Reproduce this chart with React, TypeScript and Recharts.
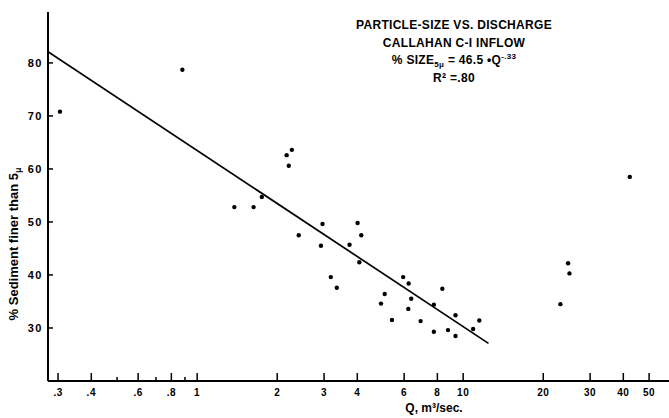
import { ScatterChart, Scatter, XAxis, YAxis } from 'recharts';

// discharge Q (m3/sec) and % sediment finer than 5 micron
const dischargeQ = [
  0.305, 0.88, 1.38, 1.63, 1.75, 2.17, 2.27, 2.21, 2.41, 2.96, 2.92, 3.18, 3.35,
  3.74, 4.01, 4.14, 4.07, 5.07, 4.91, 5.4, 5.95, 6.24, 6.38, 6.22, 6.92, 7.76,
  7.76, 8.35, 8.77, 9.36, 9.36, 10.9, 11.5, 23.2, 24.8, 25.1, 42.3,
];
const sedimentPct = [
  70.8, 78.7, 52.8, 52.8, 54.7, 62.6, 63.6, 60.6, 47.5, 49.6, 45.5, 39.6, 37.6,
  45.7, 49.8, 47.5, 42.4, 36.4, 34.6, 31.5, 39.6, 38.4, 35.5, 33.6, 31.3, 34.4,
  29.3, 37.4, 29.6, 32.4, 28.5, 29.8, 31.4, 34.5, 42.2, 40.3, 58.5,
];

// ends of the fitted line as drawn
const fitQ = [0.275, 12.45];
const fitPct = [82.1, 27.1];

const xTicks = [0.3, 0.4, 0.5, 0.6, 0.7, 0.8, 0.9, 1, 2, 3, 4, 6, 8, 10, 20, 30, 40, 50];
const xTickLabels: Record<number, string> = {
  0.3: '.3', 0.4: '.4', 0.6: '.6', 0.8: '.8', 1: '1', 2: '2', 3: '3', 4: '4',
  6: '6', 8: '8', 10: '10', 20: '20', 30: '30', 40: '40', 50: '50',
};
const yTicks = [30, 40, 50, 60, 70, 80];

const points = dischargeQ.map((q, i) => ({ q, pct: sedimentPct[i] }));
const fitLine = fitQ.map((q, i) => ({ q, pct: fitPct[i] }));

const FONT = '"Liberation Sans", Arial, sans-serif';

function XTick({ x, y, payload }: any) {
  const label = xTickLabels[payload.value];
  const len = label ? 8 : 4;
  return (
    <g>
      <line x1={x} y1={y} x2={x} y2={y - len} stroke="#000" strokeWidth={1.5} />
      {label && (
        <text x={x} y={y + 15} textAnchor="middle" fontSize={10} fontWeight="bold" fontFamily={FONT} fill="#000" letterSpacing={0.5}>
          {label}
        </text>
      )}
    </g>
  );
}

function YTick({ x, y, payload }: any) {
  return (
    <g>
      <line x1={x} y1={y} x2={x + 5} y2={y} stroke="#000" strokeWidth={1.5} />
      <text x={x - 5} y={y + 4} textAnchor="end" fontSize={11} fontWeight="bold" fontFamily={FONT} fill="#000" letterSpacing={1.5}>
        {payload.value}
      </text>
    </g>
  );
}

const dot = (props: any) => <circle cx={props.cx} cy={props.cy} r={2.2} fill="#000" />;

const small = { fontSize: 8, lineHeight: 0 };

export default function App() {
  return (
    <div style={{ position: 'absolute', left: 0, top: 0, width: 669, height: 418, background: '#fff', fontFamily: FONT }}>
      <ScatterChart width={669} height={418} margin={{ top: 12, right: 0, bottom: 0, left: 0 }}>
        <XAxis
          type="number"
          dataKey="q"
          scale="log"
          domain={[0.275, 59.4]}
          allowDataOverflow
          ticks={xTicks}
          interval={0}
          height={37}
          tickSize={0}
          tickMargin={0}
          tickLine={false}
          tick={<XTick />}
          axisLine={{ stroke: '#000', strokeWidth: 2 }}
        />
        <YAxis
          type="number"
          dataKey="pct"
          domain={[20, 89.6]}
          allowDataOverflow
          ticks={yTicks}
          interval={0}
          width={48}
          tickSize={0}
          tickMargin={0}
          tickLine={false}
          tick={<YTick />}
          axisLine={{ stroke: '#000', strokeWidth: 2 }}
        />
        <Scatter data={points} shape={dot} isAnimationActive={false} />
        <Scatter
          data={fitLine}
          line={{ stroke: '#000', strokeWidth: 1.7 }}
          shape={() => <g />}
          isAnimationActive={false}
        />
      </ScatterChart>

      <div style={{ position: 'absolute', left: 344, top: 17, width: 220, textAlign: 'center', fontSize: 12, fontWeight: 'bold', lineHeight: '17.5px', color: '#000', letterSpacing: 0.3 }}>
        <div>PARTICLE-SIZE VS. DISCHARGE</div>
        <div>CALLAHAN C-I INFLOW</div>
        <div>
          % SIZE<sub style={small}>5μ</sub> = 46.5 •Q<sup style={small}>-.33</sup>
        </div>
        <div>R² =.80</div>
      </div>

      <div style={{ position: 'absolute', left: 384, top: 401, width: 100, textAlign: 'center', fontSize: 12, fontWeight: 'bold', color: '#000' }}>
        Q, m³/sec.
      </div>

      <div
        style={{
          position: 'absolute', left: 13, top: 244, transform: 'translate(-50%, -50%) rotate(-90deg)',
          whiteSpace: 'nowrap', fontSize: 13, fontWeight: 'bold', color: '#000',
        }}
      >
        % Sediment finer than 5<sub style={{ fontSize: 9, lineHeight: 0 }}>μ</sub>
      </div>
    </div>
  );
}
